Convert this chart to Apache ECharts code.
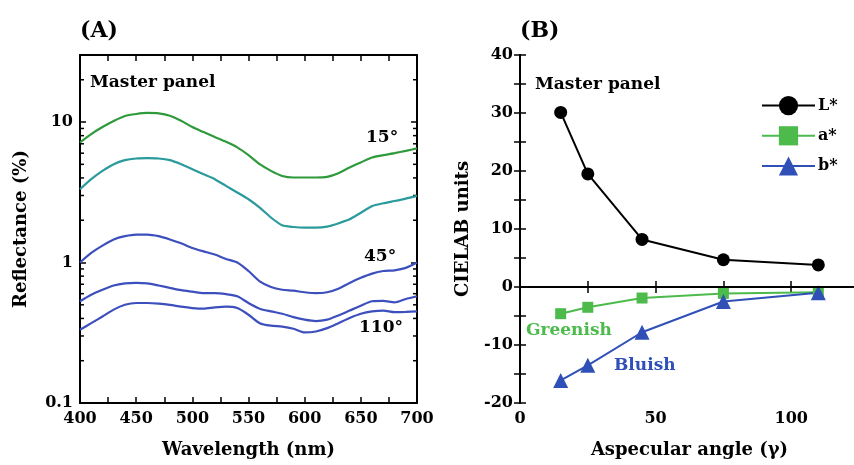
<!DOCTYPE html>
<html>
<head>
<meta charset="utf-8">
<script src="https://cdn.jsdelivr.net/npm/echarts@6.0.0/dist/echarts.min.js"></script>
<style>
  html, body { margin: 0; padding: 0; background: #fff; }
  #chart { width: 854px; height: 465px; }
</style>
</head>
<body>
<div id="chart"></div>
<script>
// ---- Panel A: reflectance spectra (log scale), 10 nm steps ----
const wavelengths = [400, 410, 420, 430, 440, 450, 460, 470, 480, 490, 500, 510, 520, 530, 540, 550,
                     560, 570, 580, 590, 600, 610, 620, 630, 640, 650, 660, 670, 680, 690, 700];
const refl15  = [7.16, 8.21, 9.21, 10.17, 11.04, 11.41, 11.6, 11.53, 11.09, 10.2, 9.21, 8.48, 7.82, 7.23, 6.6, 5.81,
                 5.01, 4.49, 4.13, 4.03, 4.03, 4.03, 4.07, 4.32, 4.75, 5.16, 5.59, 5.81, 6.01, 6.24, 6.49];
const refl25  = [3.32, 3.92, 4.49, 5.01, 5.35, 5.5, 5.53, 5.5, 5.35, 5.01, 4.62, 4.25, 3.92, 3.51, 3.15, 2.82,
                 2.46, 2.09, 1.84, 1.79, 1.77, 1.77, 1.8, 1.9, 2.03, 2.26, 2.52, 2.64, 2.74, 2.85, 2.98];
const refl45  = [1.0, 1.17, 1.32, 1.46, 1.54, 1.58, 1.58, 1.54, 1.46, 1.37, 1.27, 1.2, 1.14, 1.06, 1.0, 0.87,
                 0.735, 0.67, 0.64, 0.63, 0.614, 0.605, 0.614, 0.65, 0.716, 0.778, 0.834, 0.87, 0.88, 0.916, 1.0];
const refl75  = [0.53, 0.59, 0.64, 0.686, 0.71, 0.716, 0.71, 0.686, 0.66, 0.636, 0.62, 0.605, 0.605, 0.595, 0.575, 0.515,
                 0.469, 0.449, 0.432, 0.409, 0.392, 0.383, 0.392, 0.42, 0.455, 0.493, 0.53, 0.533, 0.52, 0.55, 0.575];
const refl110 = [0.332, 0.37, 0.413, 0.462, 0.5, 0.515, 0.515, 0.51, 0.5, 0.485, 0.474, 0.469, 0.479, 0.485, 0.474, 0.425,
                 0.37, 0.355, 0.35, 0.338, 0.318, 0.323, 0.341, 0.37, 0.403, 0.432, 0.449, 0.455, 0.443, 0.445, 0.449];
const logMinorTicks = [0.2, 0.3, 0.4, 0.5, 0.6, 0.7, 0.8, 0.9, 2, 3, 4, 5, 6, 7, 8, 9, 20];

// ---- Panel B: CIELAB differences vs aspecular angle ----
const angles = [15, 25, 45, 75, 110];
const dL = [30.1, 19.5, 8.2, 4.7, 3.8];
const da = [-4.6, -3.5, -1.9, -1.1, -0.9];
const db = [-16.1, -13.5, -7.8, -2.5, -1.0];

const FONT = 'DejaVu Serif';
const txt = (size) => ({ fontFamily: FONT, fontWeight: 'bold', fontSize: size, color: '#000' });
const pairs = (xs, ys) => xs.map((x, i) => [x, ys[i]]);

function frameAxis(extra) {
  return Object.assign({
    axisLine: { show: true, lineStyle: { color: '#000', width: 2 } },
    axisTick: { show: true, inside: true, length: 6, lineStyle: { color: '#000', width: 1.5 } },
    splitLine: { show: false },
    axisLabel: Object.assign({ margin: 7 }, txt(16))
  }, extra);
}

const curveColors = ['#2f9a3c', '#2a9a9c', '#3d4fbd', '#3d4fbd', '#3d4fbd'];
const curves = [refl15, refl25, refl45, refl75, refl110];

const series = curves.map((vals, i) => ({
  type: 'line', xAxisIndex: 0, yAxisIndex: 0,
  data: pairs(wavelengths, vals), smooth: 0.25, symbol: 'none',
  lineStyle: { color: curveColors[i], width: 2.2 }, silent: true
}));

// minor ticks of the log axis (2..9 within each decade), on both frame sides
series.push({
  type: 'custom', xAxisIndex: 0, yAxisIndex: 0, silent: true,
  data: logMinorTicks.map(v => [400, v]),
  encode: { x: 0, y: 1 },
  renderItem(params, api) {
    const v = api.value(1);
    const l = api.coord([400, v]);
    const r = api.coord([700, v]);
    const st = { stroke: '#000', lineWidth: 1.5 };
    return { type: 'group', children: [
      { type: 'line', shape: { x1: l[0], y1: l[1], x2: l[0] + 4, y2: l[1] }, style: st },
      { type: 'line', shape: { x1: r[0], y1: r[1], x2: r[0] - 4, y2: r[1] }, style: st }
    ] };
  }
});

series.push({
  name: 'L*', type: 'line', xAxisIndex: 2, yAxisIndex: 2,
  data: pairs(angles, dL), symbol: 'circle', symbolSize: 13, z: 5,
  itemStyle: { color: '#000' }, lineStyle: { color: '#000', width: 2 },
  markLine: {
    silent: true, symbol: ['none', 'none'], label: { show: false },
    lineStyle: { color: '#000', width: 2, type: 'solid' },
    data: [{ yAxis: 0 }]
  }
});
series.push({
  name: 'a*', type: 'line', xAxisIndex: 2, yAxisIndex: 2,
  data: pairs(angles, da), symbol: 'rect', symbolSize: 11, z: 4,
  itemStyle: { color: '#4cbb4c' }, lineStyle: { color: '#4cbb4c', width: 2 }
});
series.push({
  name: 'b*', type: 'line', xAxisIndex: 2, yAxisIndex: 2,
  data: pairs(angles, db), symbol: 'triangle', symbolSize: 15, z: 4,
  itemStyle: { color: '#3050b8' }, lineStyle: { color: '#3050b8', width: 2 }
});

const option = {
  animation: false,
  backgroundColor: '#fff',
  grid: [
    { left: 80, top: 55, width: 337, height: 348, outerBoundsMode: 'none' },
    { left: 520, top: 55, width: 339, height: 348, outerBoundsMode: 'none' }
  ],
  xAxis: [
    frameAxis({ type: 'value', gridIndex: 0, min: 400, max: 700, interval: 25, position: 'bottom',
      axisLabel: Object.assign({ margin: 8, formatter: v => (v % 50 === 0 ? String(v) : '') }, txt(16)),
      name: 'Wavelength (nm)', nameLocation: 'middle', nameGap: 38, nameTextStyle: txt(18) }),
    frameAxis({ type: 'value', gridIndex: 0, min: 400, max: 700, interval: 25, position: 'top',
      axisLabel: { show: false } }),
    frameAxis({ type: 'value', gridIndex: 1, min: 0, max: 125, interval: 25, position: 'bottom',
      axisLabel: Object.assign({ margin: 8, showMaxLabel: false,
        formatter: v => (v % 50 === 0 ? String(v) : '') }, txt(16)),
      name: 'Aspecular angle (γ)', nameLocation: 'middle', nameGap: 38, nameTextStyle: txt(18) }),
    frameAxis({ type: 'value', gridIndex: 1, min: 0, max: 125, interval: 25, position: 'top',
      axisLabel: { show: false } })
  ],
  yAxis: [
    frameAxis({ type: 'log', logBase: 10, gridIndex: 0, min: 0.1, max: 30, position: 'left',
      axisLabel: Object.assign({ margin: 7, showMaxLabel: false,
        formatter: v => (Math.abs(v - 30) < 1e-6 ? '' : String(v)) }, txt(16)),
      name: 'Reflectance (%)', nameLocation: 'middle', nameGap: 50, nameTextStyle: txt(18) }),
    frameAxis({ type: 'log', logBase: 10, gridIndex: 0, min: 0.1, max: 30, position: 'right',
      axisLabel: { show: false } }),
    frameAxis({ type: 'value', gridIndex: 1, min: -20, max: 40, interval: 5, position: 'left',
      axisLabel: Object.assign({ margin: 7, formatter: v => (v % 10 === 0 ? String(v) : '') }, txt(16)),
      name: 'CIELAB units', nameLocation: 'middle', nameGap: 48, nameTextStyle: txt(18) }),
    frameAxis({ type: 'value', gridIndex: 1, min: -20, max: 40, interval: 5, position: 'right',
      axisLabel: { show: false } })
  ],
  legend: {
    data: ['L*', 'a*', 'b*'], orient: 'vertical', left: 761, top: 96, padding: 0,
    itemWidth: 53, itemHeight: 24, itemGap: 11, selectedMode: false,
    textStyle: Object.assign({ padding: [0, 0, 0, -2] }, txt(16))
  },
  graphic: [
    { type: 'text', left: 80, top: 20, style: Object.assign({ text: '(A)' }, txt(22), { fill: '#000' }) },
    { type: 'text', left: 520, top: 20, style: Object.assign({ text: '(B)' }, txt(22), { fill: '#000' }) },
    { type: 'text', left: 90, top: 74, style: { text: 'Master panel', font: 'bold 17px "DejaVu Serif"', fill: '#000' } },
    { type: 'text', left: 535, top: 76, style: { text: 'Master panel', font: 'bold 17px "DejaVu Serif"', fill: '#000' } },
    { type: 'text', left: 366, top: 129, style: { text: '15°', font: 'bold 17px "DejaVu Serif"', fill: '#000' } },
    { type: 'text', left: 364, top: 248, style: { text: '45°', font: 'bold 17px "DejaVu Serif"', fill: '#000' } },
    { type: 'text', left: 359, top: 319, style: { text: '110°', font: 'bold 17px "DejaVu Serif"', fill: '#000' } },
    { type: 'text', left: 526, top: 322, style: { text: 'Greenish', font: 'bold 17px "DejaVu Serif"', fill: '#4cbb4c' } },
    { type: 'text', left: 614, top: 357, style: { text: 'Bluish', font: 'bold 17px "DejaVu Serif"', fill: '#3050b8' } }
  ],
  series: series
};

const chart = echarts.init(document.getElementById('chart'), null, { renderer: 'canvas' });
chart.setOption(option);
</script>
</body>
</html>
